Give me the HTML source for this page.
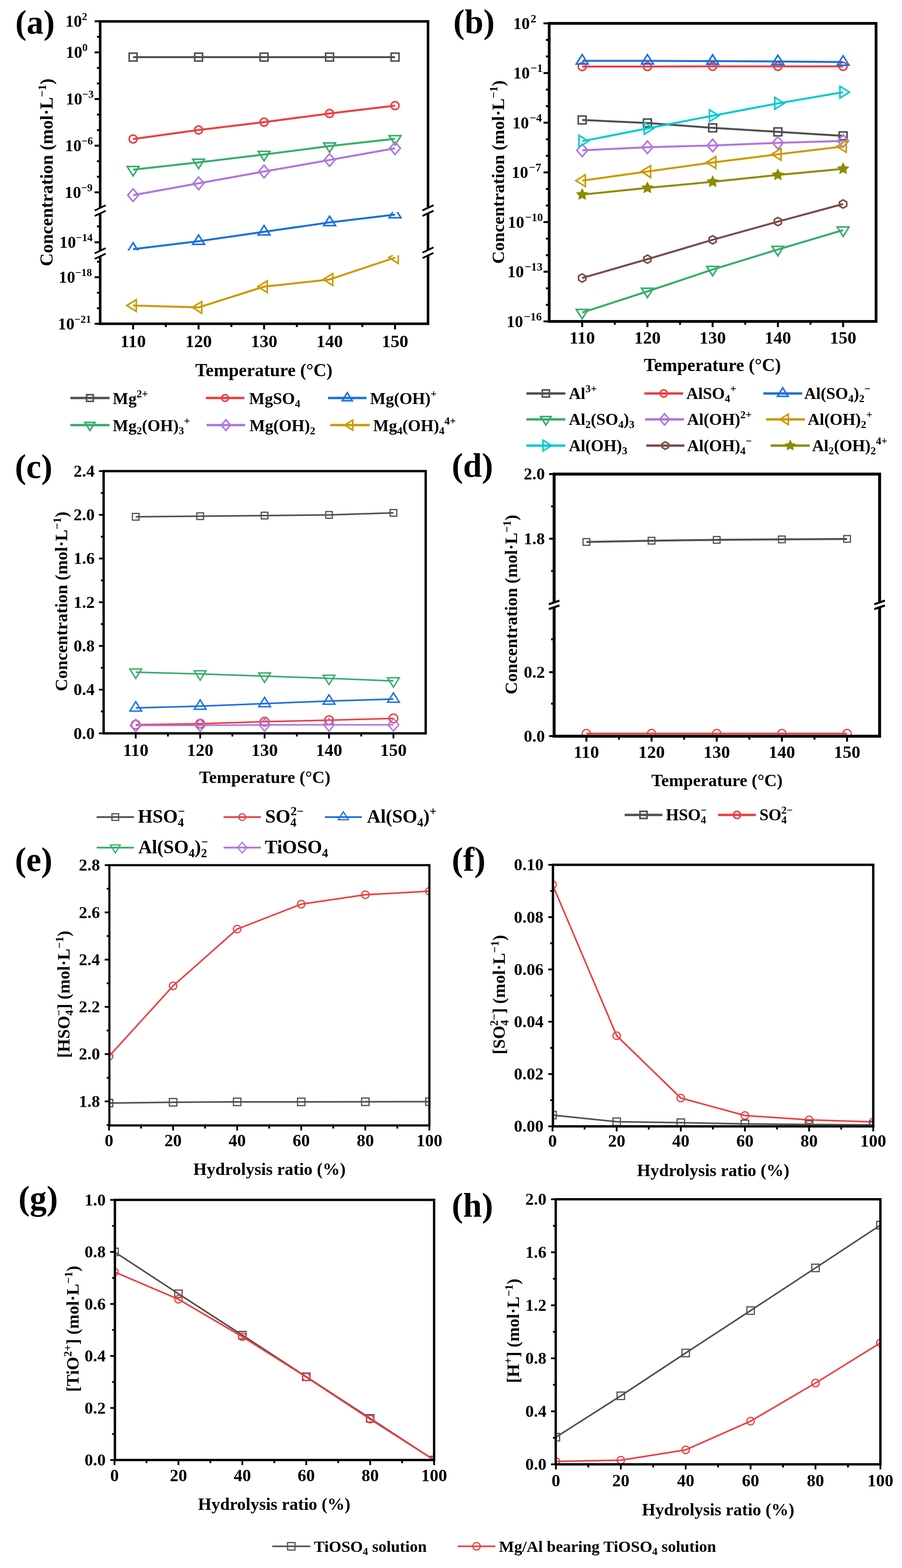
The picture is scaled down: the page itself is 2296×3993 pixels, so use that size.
<!DOCTYPE html>
<html><head><meta charset="utf-8"><title>Figure</title><style>html,body{margin:0;padding:0;background:#fff}</style></head><body>
<svg width="2296" height="3993" viewBox="0 0 2296 3993" style="display:block;font-family:'Liberation Serif',serif;font-weight:bold">
<rect width="2296" height="3993" fill="#fff"/>
<defs>
<clipPath id="ca1"><rect x="258" y="58" width="828" height="480"/></clipPath>
<clipPath id="ca2"><rect x="258" y="540" width="828" height="98"/></clipPath>
<clipPath id="ca3"><rect x="258" y="650" width="828" height="171"/></clipPath>
<clipPath id="cb"><rect x="1401" y="63" width="826" height="752"/></clipPath>
<clipPath id="cc"><rect x="267" y="1203" width="813" height="661"/></clipPath>
<clipPath id="cd1"><rect x="1414" y="1211" width="821" height="323"/></clipPath>
<clipPath id="cd2"><rect x="1414" y="1547" width="821" height="324"/></clipPath>
<clipPath id="ce"><rect x="281" y="2206" width="809" height="657"/></clipPath>
<clipPath id="cf"><rect x="1410.5" y="2205.3" width="809.3" height="660"/></clipPath>
<clipPath id="cg"><rect x="295.5" y="3058.6" width="806.5" height="656.4"/></clipPath>
<clipPath id="ch"><rect x="1417.6" y="3057" width="820.4" height="669"/></clipPath>
</defs>
<text x="39" y="86" font-size="86" text-anchor="start" >(a)</text>
<rect x="255" y="54.5" width="834.5" height="770" fill="none" stroke="#000" stroke-width="6.5" stroke-linejoin="miter"/>
<line x1="338.8" y1="824.5" x2="338.8" y2="838.8" stroke="#000" stroke-width="5"/>
<line x1="505.5" y1="824.5" x2="505.5" y2="838.8" stroke="#000" stroke-width="5"/>
<line x1="672.2" y1="824.5" x2="672.2" y2="838.8" stroke="#000" stroke-width="5"/>
<line x1="838.9" y1="824.5" x2="838.9" y2="838.8" stroke="#000" stroke-width="5"/>
<line x1="1005.6" y1="824.5" x2="1005.6" y2="838.8" stroke="#000" stroke-width="5"/>
<line x1="422.1" y1="824.5" x2="422.1" y2="832.8" stroke="#000" stroke-width="5"/>
<line x1="588.9" y1="824.5" x2="588.9" y2="832.8" stroke="#000" stroke-width="5"/>
<line x1="755.6" y1="824.5" x2="755.6" y2="832.8" stroke="#000" stroke-width="5"/>
<line x1="922.2" y1="824.5" x2="922.2" y2="832.8" stroke="#000" stroke-width="5"/>
<text x="338.8" y="884" font-size="45" text-anchor="middle" >110</text>
<text x="505.5" y="884" font-size="45" text-anchor="middle" >120</text>
<text x="672.2" y="884" font-size="45" text-anchor="middle" >130</text>
<text x="838.9" y="884" font-size="45" text-anchor="middle" >140</text>
<text x="1005.6" y="884" font-size="45" text-anchor="middle" >150</text>
<line x1="240.8" y1="54.2" x2="255" y2="54.2" stroke="#000" stroke-width="5"/>
<line x1="240.8" y1="133.4" x2="255" y2="133.4" stroke="#000" stroke-width="5"/>
<line x1="240.8" y1="252.2" x2="255" y2="252.2" stroke="#000" stroke-width="5"/>
<line x1="240.8" y1="371" x2="255" y2="371" stroke="#000" stroke-width="5"/>
<line x1="240.8" y1="489.8" x2="255" y2="489.8" stroke="#000" stroke-width="5"/>
<line x1="240.8" y1="617" x2="255" y2="617" stroke="#000" stroke-width="5"/>
<line x1="240.8" y1="706" x2="255" y2="706" stroke="#000" stroke-width="5"/>
<line x1="240.8" y1="824.5" x2="255" y2="824.5" stroke="#000" stroke-width="5"/>
<line x1="246.8" y1="93.8" x2="255" y2="93.8" stroke="#000" stroke-width="5"/>
<line x1="246.8" y1="173" x2="255" y2="173" stroke="#000" stroke-width="5"/>
<line x1="246.8" y1="212.6" x2="255" y2="212.6" stroke="#000" stroke-width="5"/>
<line x1="246.8" y1="291.8" x2="255" y2="291.8" stroke="#000" stroke-width="5"/>
<line x1="246.8" y1="331.4" x2="255" y2="331.4" stroke="#000" stroke-width="5"/>
<line x1="246.8" y1="410.6" x2="255" y2="410.6" stroke="#000" stroke-width="5"/>
<line x1="246.8" y1="450.2" x2="255" y2="450.2" stroke="#000" stroke-width="5"/>
<line x1="246.8" y1="576.5" x2="255" y2="576.5" stroke="#000" stroke-width="5"/>
<line x1="246.8" y1="666.5" x2="255" y2="666.5" stroke="#000" stroke-width="5"/>
<line x1="246.8" y1="745.5" x2="255" y2="745.5" stroke="#000" stroke-width="5"/>
<line x1="246.8" y1="785" x2="255" y2="785" stroke="#000" stroke-width="5"/>
<polygon points="241,536 269,522.8 269,536.8 241,550" fill="#fff"/>
<line x1="241" y1="536" x2="269" y2="522.8" stroke="#000" stroke-width="4.5"/>
<line x1="241" y1="550" x2="269" y2="536.8" stroke="#000" stroke-width="4.5"/>
<polygon points="241,645.2 269,632 269,646 241,659.2" fill="#fff"/>
<line x1="241" y1="645.2" x2="269" y2="632" stroke="#000" stroke-width="4.5"/>
<line x1="241" y1="659.2" x2="269" y2="646" stroke="#000" stroke-width="4.5"/>
<polygon points="1075.5,535.9 1103.5,522.6 1103.5,536.6 1075.5,549.9" fill="#fff"/>
<line x1="1075.5" y1="535.9" x2="1103.5" y2="522.6" stroke="#000" stroke-width="4.5"/>
<line x1="1075.5" y1="549.9" x2="1103.5" y2="536.6" stroke="#000" stroke-width="4.5"/>
<polygon points="1075.5,643.2 1103.5,630 1103.5,644 1075.5,657.2" fill="#fff"/>
<line x1="1075.5" y1="643.2" x2="1103.5" y2="630" stroke="#000" stroke-width="4.5"/>
<line x1="1075.5" y1="657.2" x2="1103.5" y2="644" stroke="#000" stroke-width="4.5"/>
<text x="166.6" y="68.2" font-size="42">10<tspan baseline-shift="17" font-size="27">2</tspan></text>
<text x="167.6" y="147.4" font-size="42">10<tspan baseline-shift="17" font-size="27">0</tspan></text>
<text x="167.6" y="266.2" font-size="42">10<tspan baseline-shift="17" font-size="27">−3</tspan></text>
<text x="165.6" y="385" font-size="42">10<tspan baseline-shift="17" font-size="27">−6</tspan></text>
<text x="164.6" y="503.8" font-size="42">10<tspan baseline-shift="17" font-size="27">−9</tspan></text>
<text x="151.3" y="631" font-size="42">10<tspan baseline-shift="17" font-size="27">−14</tspan></text>
<text x="149.6" y="720" font-size="42">10<tspan baseline-shift="17" font-size="27">−18</tspan></text>
<text x="147.6" y="838.5" font-size="42">10<tspan baseline-shift="17" font-size="27">−21</tspan></text>
<text transform="translate(134,439) rotate(-90)" x="0" y="0" font-size="46" text-anchor="middle">Concentration (mol·L<tspan baseline-shift="17" font-size="30">−1</tspan>)</text>
<text x="671.7" y="958" font-size="46" text-anchor="middle" >Temperature (°C)</text>
<g clip-path="url(#ca1)">
<polyline points="338.8,145.4 505.5,145.4 672.2,145.4 838.9,145.4 1005.6,145.4" fill="none" stroke="#505050" stroke-width="5" stroke-linejoin="round"/>
<rect x="328.8" y="135.4" width="20" height="20" fill="none" stroke="#505050" stroke-width="4"/>
<rect x="495.5" y="135.4" width="20" height="20" fill="none" stroke="#505050" stroke-width="4"/>
<rect x="662.2" y="135.4" width="20" height="20" fill="none" stroke="#505050" stroke-width="4"/>
<rect x="828.9" y="135.4" width="20" height="20" fill="none" stroke="#505050" stroke-width="4"/>
<rect x="995.6" y="135.4" width="20" height="20" fill="none" stroke="#505050" stroke-width="4"/>
</g>
<g clip-path="url(#ca1)">
<polyline points="338.8,354 505.5,331 672.2,311 838.9,289 1005.6,269" fill="none" stroke="#ef3e40" stroke-width="5" stroke-linejoin="round"/>
<circle cx="338.8" cy="354" r="10" fill="none" stroke="#ef3e40" stroke-width="4"/>
<circle cx="505.5" cy="331" r="10" fill="none" stroke="#ef3e40" stroke-width="4"/>
<circle cx="672.2" cy="311" r="10" fill="none" stroke="#ef3e40" stroke-width="4"/>
<circle cx="838.9" cy="289" r="10" fill="none" stroke="#ef3e40" stroke-width="4"/>
<circle cx="1005.6" cy="269" r="10" fill="none" stroke="#ef3e40" stroke-width="4"/>
</g>
<g clip-path="url(#ca1)">
<polyline points="338.8,432 505.5,413.6 672.2,393.6 838.9,372 1005.6,353.4" fill="none" stroke="#38ad6b" stroke-width="5" stroke-linejoin="round"/>
<polygon points="338.8,448 353.8,424 323.8,424" fill="none" stroke="#38ad6b" stroke-width="4" stroke-linejoin="miter"/>
<polygon points="505.5,429.6 520.5,405.6 490.5,405.6" fill="none" stroke="#38ad6b" stroke-width="4" stroke-linejoin="miter"/>
<polygon points="672.2,409.6 687.2,385.6 657.2,385.6" fill="none" stroke="#38ad6b" stroke-width="4" stroke-linejoin="miter"/>
<polygon points="838.9,388 853.9,364 823.9,364" fill="none" stroke="#38ad6b" stroke-width="4" stroke-linejoin="miter"/>
<polygon points="1005.6,369.4 1020.6,345.4 990.6,345.4" fill="none" stroke="#38ad6b" stroke-width="4" stroke-linejoin="miter"/>
</g>
<g clip-path="url(#ca1)">
<polyline points="338.8,497 505.5,466.8 672.2,436.8 838.9,407.5 1005.6,377.5" fill="none" stroke="#ae76de" stroke-width="5" stroke-linejoin="round"/>
<polygon points="338.8,481 352.4,497 338.8,513 325.2,497" fill="none" stroke="#ae76de" stroke-width="4"/>
<polygon points="505.5,450.8 519.1,466.8 505.5,482.8 491.9,466.8" fill="none" stroke="#ae76de" stroke-width="4"/>
<polygon points="672.2,420.8 685.8,436.8 672.2,452.8 658.6,436.8" fill="none" stroke="#ae76de" stroke-width="4"/>
<polygon points="838.9,391.5 852.5,407.5 838.9,423.5 825.3,407.5" fill="none" stroke="#ae76de" stroke-width="4"/>
<polygon points="1005.6,361.5 1019.2,377.5 1005.6,393.5 992,377.5" fill="none" stroke="#ae76de" stroke-width="4"/>
</g>
<g clip-path="url(#ca2)">
<polyline points="338.8,634.4 505.5,614.3 672.2,590.3 838.9,566.4 1005.6,546.4" fill="none" stroke="#1a70e0" stroke-width="5" stroke-linejoin="round"/>
<polygon points="338.8,618.4 353.8,642.4 323.8,642.4" fill="none" stroke="#1a70e0" stroke-width="4" stroke-linejoin="miter"/>
<polygon points="505.5,598.3 520.5,622.3 490.5,622.3" fill="none" stroke="#1a70e0" stroke-width="4" stroke-linejoin="miter"/>
<polygon points="672.2,574.3 687.2,598.3 657.2,598.3" fill="none" stroke="#1a70e0" stroke-width="4" stroke-linejoin="miter"/>
<polygon points="838.9,550.4 853.9,574.4 823.9,574.4" fill="none" stroke="#1a70e0" stroke-width="4" stroke-linejoin="miter"/>
<polygon points="1005.6,530.4 1020.6,554.4 990.6,554.4" fill="none" stroke="#1a70e0" stroke-width="4" stroke-linejoin="miter"/>
</g>
<g clip-path="url(#ca3)">
<polyline points="338.8,778 505.5,782.8 672.2,730 838.9,711.7 1005.6,656" fill="none" stroke="#cc9900" stroke-width="5" stroke-linejoin="round"/>
<polygon points="322.8,778 346.8,763 346.8,793" fill="none" stroke="#cc9900" stroke-width="4" stroke-linejoin="miter"/>
<polygon points="489.5,782.8 513.5,767.8 513.5,797.8" fill="none" stroke="#cc9900" stroke-width="4" stroke-linejoin="miter"/>
<polygon points="656.2,730 680.2,715 680.2,745" fill="none" stroke="#cc9900" stroke-width="4" stroke-linejoin="miter"/>
<polygon points="822.9,711.7 846.9,696.7 846.9,726.7" fill="none" stroke="#cc9900" stroke-width="4" stroke-linejoin="miter"/>
<polygon points="989.6,656 1013.6,641 1013.6,671" fill="none" stroke="#cc9900" stroke-width="4" stroke-linejoin="miter"/>
</g>
<line x1="179" y1="1013.6" x2="279" y2="1013.6" stroke="#505050" stroke-width="6"/>
<rect x="220.5" y="1005.1" width="17" height="17" fill="none" stroke="#505050" stroke-width="4"/>
<text x="287" y="1028.6" font-size="42">Mg<tspan baseline-shift="16.8" font-size="27.3">2+</tspan></text>
<line x1="524" y1="1013.6" x2="622" y2="1013.6" stroke="#ef3e40" stroke-width="6"/>
<circle cx="573" cy="1013.6" r="8.5" fill="none" stroke="#ef3e40" stroke-width="4"/>
<text x="634" y="1028.6" font-size="42">MgSO<tspan baseline-shift="-8.4" font-size="27.3">4</tspan></text>
<line x1="835" y1="1013.6" x2="933" y2="1013.6" stroke="#1a70e0" stroke-width="6"/>
<polygon points="884,1000 896.8,1020.4 871.2,1020.4" fill="none" stroke="#1a70e0" stroke-width="4" stroke-linejoin="miter"/>
<text x="942" y="1028.6" font-size="42">Mg(OH)<tspan baseline-shift="16.8" font-size="27.3">+</tspan></text>
<line x1="179" y1="1082.6" x2="279" y2="1082.6" stroke="#38ad6b" stroke-width="6"/>
<polygon points="229,1096.2 241.8,1075.8 216.2,1075.8" fill="none" stroke="#38ad6b" stroke-width="4" stroke-linejoin="miter"/>
<text x="287" y="1097.6" font-size="42">Mg<tspan baseline-shift="-8.4" font-size="27.3">2</tspan>(OH)<tspan baseline-shift="-8.4" font-size="27.3">3</tspan><tspan baseline-shift="16.8" font-size="27.3">+</tspan></text>
<line x1="526" y1="1082.6" x2="624" y2="1082.6" stroke="#ae76de" stroke-width="6"/>
<polygon points="575,1069 586.6,1082.6 575,1096.2 563.4,1082.6" fill="none" stroke="#ae76de" stroke-width="4"/>
<text x="635" y="1097.6" font-size="42">Mg(OH)<tspan baseline-shift="-8.4" font-size="27.3">2</tspan></text>
<line x1="841" y1="1082.6" x2="941" y2="1082.6" stroke="#cc9900" stroke-width="6"/>
<polygon points="877.4,1082.6 897.8,1069.8 897.8,1095.3" fill="none" stroke="#cc9900" stroke-width="4" stroke-linejoin="miter"/>
<text x="950" y="1097.6" font-size="42">Mg<tspan baseline-shift="-8.4" font-size="27.3">4</tspan>(OH)<tspan baseline-shift="-8.4" font-size="27.3">4</tspan><tspan baseline-shift="16.8" font-size="27.3">4+</tspan></text>
<text x="1154" y="84" font-size="86" text-anchor="start" >(b)</text>
<rect x="1398" y="59.5" width="832" height="759" fill="none" stroke="#000" stroke-width="7" stroke-linejoin="miter"/>
<line x1="1481.9" y1="818.5" x2="1481.9" y2="833" stroke="#000" stroke-width="5"/>
<line x1="1648" y1="818.5" x2="1648" y2="833" stroke="#000" stroke-width="5"/>
<line x1="1814" y1="818.5" x2="1814" y2="833" stroke="#000" stroke-width="5"/>
<line x1="1980.1" y1="818.5" x2="1980.1" y2="833" stroke="#000" stroke-width="5"/>
<line x1="2146.1" y1="818.5" x2="2146.1" y2="833" stroke="#000" stroke-width="5"/>
<line x1="1564.9" y1="818.5" x2="1564.9" y2="827" stroke="#000" stroke-width="5"/>
<line x1="1731" y1="818.5" x2="1731" y2="827" stroke="#000" stroke-width="5"/>
<line x1="1897" y1="818.5" x2="1897" y2="827" stroke="#000" stroke-width="5"/>
<line x1="2063.1" y1="818.5" x2="2063.1" y2="827" stroke="#000" stroke-width="5"/>
<text x="1481.9" y="875" font-size="45" text-anchor="middle" >110</text>
<text x="1648" y="875" font-size="45" text-anchor="middle" >120</text>
<text x="1814" y="875" font-size="45" text-anchor="middle" >130</text>
<text x="1980.1" y="875" font-size="45" text-anchor="middle" >140</text>
<text x="2146.1" y="875" font-size="45" text-anchor="middle" >150</text>
<line x1="1383.5" y1="59.5" x2="1398" y2="59.5" stroke="#000" stroke-width="5"/>
<line x1="1383.5" y1="186" x2="1398" y2="186" stroke="#000" stroke-width="5"/>
<line x1="1383.5" y1="312.5" x2="1398" y2="312.5" stroke="#000" stroke-width="5"/>
<line x1="1383.5" y1="439" x2="1398" y2="439" stroke="#000" stroke-width="5"/>
<line x1="1383.5" y1="565.5" x2="1398" y2="565.5" stroke="#000" stroke-width="5"/>
<line x1="1383.5" y1="692" x2="1398" y2="692" stroke="#000" stroke-width="5"/>
<line x1="1383.5" y1="818.5" x2="1398" y2="818.5" stroke="#000" stroke-width="5"/>
<line x1="1389.5" y1="101.7" x2="1398" y2="101.7" stroke="#000" stroke-width="5"/>
<line x1="1389.5" y1="143.8" x2="1398" y2="143.8" stroke="#000" stroke-width="5"/>
<line x1="1389.5" y1="228.2" x2="1398" y2="228.2" stroke="#000" stroke-width="5"/>
<line x1="1389.5" y1="270.3" x2="1398" y2="270.3" stroke="#000" stroke-width="5"/>
<line x1="1389.5" y1="354.7" x2="1398" y2="354.7" stroke="#000" stroke-width="5"/>
<line x1="1389.5" y1="396.8" x2="1398" y2="396.8" stroke="#000" stroke-width="5"/>
<line x1="1389.5" y1="481.2" x2="1398" y2="481.2" stroke="#000" stroke-width="5"/>
<line x1="1389.5" y1="523.3" x2="1398" y2="523.3" stroke="#000" stroke-width="5"/>
<line x1="1389.5" y1="607.7" x2="1398" y2="607.7" stroke="#000" stroke-width="5"/>
<line x1="1389.5" y1="649.8" x2="1398" y2="649.8" stroke="#000" stroke-width="5"/>
<line x1="1389.5" y1="734.2" x2="1398" y2="734.2" stroke="#000" stroke-width="5"/>
<line x1="1389.5" y1="776.3" x2="1398" y2="776.3" stroke="#000" stroke-width="5"/>
<text x="1306.6" y="73.5" font-size="42">10<tspan dx="2" baseline-shift="17" font-size="29">2</tspan></text>
<text x="1306.6" y="200" font-size="42">10<tspan dx="2" baseline-shift="17" font-size="29">−1</tspan></text>
<text x="1304.2" y="326.5" font-size="42">10<tspan dx="2" baseline-shift="17" font-size="29">−4</tspan></text>
<text x="1302.6" y="453" font-size="42">10<tspan dx="2" baseline-shift="17" font-size="29">−7</tspan></text>
<text x="1292.6" y="579.5" font-size="42">10<tspan dx="2" baseline-shift="17" font-size="29">−10</tspan></text>
<text x="1291.6" y="706" font-size="42">10<tspan dx="2" baseline-shift="17" font-size="29">−13</tspan></text>
<text x="1289.6" y="832.5" font-size="42">10<tspan dx="2" baseline-shift="17" font-size="29">−16</tspan></text>
<text transform="translate(1282.5,438) rotate(-90)" x="0" y="0" font-size="45" text-anchor="middle">Concentration (mol·L<tspan baseline-shift="17" font-size="29">−1</tspan>)</text>
<text x="1813.3" y="945" font-size="46" text-anchor="middle" >Temperature (°C)</text>
<g clip-path="url(#cb)">
<polyline points="1481.9,305.5 1648,313.2 1814,325.6 1980.1,335.8 2146.1,346" fill="none" stroke="#505050" stroke-width="5" stroke-linejoin="round"/>
<rect x="1471.9" y="295.5" width="20" height="20" fill="none" stroke="#505050" stroke-width="4"/>
<rect x="1638" y="303.2" width="20" height="20" fill="none" stroke="#505050" stroke-width="4"/>
<rect x="1804" y="315.6" width="20" height="20" fill="none" stroke="#505050" stroke-width="4"/>
<rect x="1970.1" y="325.8" width="20" height="20" fill="none" stroke="#505050" stroke-width="4"/>
<rect x="2136.1" y="336" width="20" height="20" fill="none" stroke="#505050" stroke-width="4"/>
</g>
<g clip-path="url(#cb)">
<polyline points="1481.9,169.5 1648,169.5 1814,169 1980.1,169 2146.1,169" fill="none" stroke="#ef3e40" stroke-width="5" stroke-linejoin="round"/>
<circle cx="1481.9" cy="169.5" r="10" fill="none" stroke="#ef3e40" stroke-width="4"/>
<circle cx="1648" cy="169.5" r="10" fill="none" stroke="#ef3e40" stroke-width="4"/>
<circle cx="1814" cy="169" r="10" fill="none" stroke="#ef3e40" stroke-width="4"/>
<circle cx="1980.1" cy="169" r="10" fill="none" stroke="#ef3e40" stroke-width="4"/>
<circle cx="2146.1" cy="169" r="10" fill="none" stroke="#ef3e40" stroke-width="4"/>
</g>
<g clip-path="url(#cb)">
<polyline points="1481.9,155 1648,155 1814,155.6 1980.1,156.6 2146.1,158" fill="none" stroke="#1a70e0" stroke-width="5" stroke-linejoin="round"/>
<polygon points="1481.9,139 1496.9,163 1466.9,163" fill="none" stroke="#1a70e0" stroke-width="4" stroke-linejoin="miter"/>
<polygon points="1648,139 1663,163 1633,163" fill="none" stroke="#1a70e0" stroke-width="4" stroke-linejoin="miter"/>
<polygon points="1814,139.6 1829,163.6 1799,163.6" fill="none" stroke="#1a70e0" stroke-width="4" stroke-linejoin="miter"/>
<polygon points="1980.1,140.6 1995.1,164.6 1965.1,164.6" fill="none" stroke="#1a70e0" stroke-width="4" stroke-linejoin="miter"/>
<polygon points="2146.1,142 2161.1,166 2131.1,166" fill="none" stroke="#1a70e0" stroke-width="4" stroke-linejoin="miter"/>
</g>
<g clip-path="url(#cb)">
<polyline points="1481.9,796 1648,742 1814,686.4 1980.1,635.4 2146.1,586" fill="none" stroke="#38ad6b" stroke-width="5" stroke-linejoin="round"/>
<polygon points="1481.9,812 1496.9,788 1466.9,788" fill="none" stroke="#38ad6b" stroke-width="4" stroke-linejoin="miter"/>
<polygon points="1648,758 1663,734 1633,734" fill="none" stroke="#38ad6b" stroke-width="4" stroke-linejoin="miter"/>
<polygon points="1814,702.4 1829,678.4 1799,678.4" fill="none" stroke="#38ad6b" stroke-width="4" stroke-linejoin="miter"/>
<polygon points="1980.1,651.4 1995.1,627.4 1965.1,627.4" fill="none" stroke="#38ad6b" stroke-width="4" stroke-linejoin="miter"/>
<polygon points="2146.1,602 2161.1,578 2131.1,578" fill="none" stroke="#38ad6b" stroke-width="4" stroke-linejoin="miter"/>
</g>
<g clip-path="url(#cb)">
<polyline points="1481.9,382.8 1648,375 1814,370.4 1980.1,363.7 2146.1,359" fill="none" stroke="#ae76de" stroke-width="5" stroke-linejoin="round"/>
<polygon points="1481.9,366.8 1495.5,382.8 1481.9,398.8 1468.3,382.8" fill="none" stroke="#ae76de" stroke-width="4"/>
<polygon points="1648,359 1661.5,375 1648,391 1634.4,375" fill="none" stroke="#ae76de" stroke-width="4"/>
<polygon points="1814,354.4 1827.6,370.4 1814,386.4 1800.4,370.4" fill="none" stroke="#ae76de" stroke-width="4"/>
<polygon points="1980.1,347.7 1993.7,363.7 1980.1,379.7 1966.5,363.7" fill="none" stroke="#ae76de" stroke-width="4"/>
<polygon points="2146.1,343 2159.7,359 2146.1,375 2132.5,359" fill="none" stroke="#ae76de" stroke-width="4"/>
</g>
<g clip-path="url(#cb)">
<polyline points="1481.9,460 1648,436.8 1814,413.7 1980.1,393 2146.1,373" fill="none" stroke="#cc9900" stroke-width="5" stroke-linejoin="round"/>
<polygon points="1465.9,460 1489.9,445 1489.9,475" fill="none" stroke="#cc9900" stroke-width="4" stroke-linejoin="miter"/>
<polygon points="1632,436.8 1656,421.8 1656,451.8" fill="none" stroke="#cc9900" stroke-width="4" stroke-linejoin="miter"/>
<polygon points="1798,413.7 1822,398.7 1822,428.7" fill="none" stroke="#cc9900" stroke-width="4" stroke-linejoin="miter"/>
<polygon points="1964.1,393 1988.1,378 1988.1,408" fill="none" stroke="#cc9900" stroke-width="4" stroke-linejoin="miter"/>
<polygon points="2130.1,373 2154.1,358 2154.1,388" fill="none" stroke="#cc9900" stroke-width="4" stroke-linejoin="miter"/>
</g>
<g clip-path="url(#cb)">
<polyline points="1481.9,359.6 1648,327 1814,294.7 1980.1,263.2 2146.1,234.8" fill="none" stroke="#00cbcf" stroke-width="5" stroke-linejoin="round"/>
<polygon points="1497.9,359.6 1473.9,344.6 1473.9,374.6" fill="none" stroke="#00cbcf" stroke-width="4" stroke-linejoin="miter"/>
<polygon points="1664,327 1640,312 1640,342" fill="none" stroke="#00cbcf" stroke-width="4" stroke-linejoin="miter"/>
<polygon points="1830,294.7 1806,279.7 1806,309.7" fill="none" stroke="#00cbcf" stroke-width="4" stroke-linejoin="miter"/>
<polygon points="1996.1,263.2 1972.1,248.2 1972.1,278.2" fill="none" stroke="#00cbcf" stroke-width="4" stroke-linejoin="miter"/>
<polygon points="2162.1,234.8 2138.1,219.8 2138.1,249.8" fill="none" stroke="#00cbcf" stroke-width="4" stroke-linejoin="miter"/>
</g>
<g clip-path="url(#cb)">
<polyline points="1481.9,708 1648,660 1814,610.7 1980.1,564.3 2146.1,519.5" fill="none" stroke="#7b4b4b" stroke-width="5" stroke-linejoin="round"/>
<polygon points="1481.9,697.5 1491,702.8 1491,713.2 1481.9,718.5 1472.8,713.2 1472.8,702.8" fill="none" stroke="#7b4b4b" stroke-width="4"/>
<polygon points="1648,649.5 1657,654.8 1657,665.2 1648,670.5 1638.9,665.2 1638.9,654.8" fill="none" stroke="#7b4b4b" stroke-width="4"/>
<polygon points="1814,600.2 1823.1,605.5 1823.1,616 1814,621.2 1804.9,616 1804.9,605.5" fill="none" stroke="#7b4b4b" stroke-width="4"/>
<polygon points="1980.1,553.8 1989.1,559 1989.1,569.5 1980.1,574.8 1971,569.5 1971,559" fill="none" stroke="#7b4b4b" stroke-width="4"/>
<polygon points="2146.1,509 2155.2,514.2 2155.2,524.8 2146.1,530 2137,524.8 2137,514.2" fill="none" stroke="#7b4b4b" stroke-width="4"/>
</g>
<g clip-path="url(#cb)">
<polyline points="1481.9,495.6 1648,478.5 1814,463 1980.1,445.5 2146.1,430" fill="none" stroke="#8c8c00" stroke-width="5" stroke-linejoin="round"/>
<polygon points="1481.9,481.6 1486,489.9 1495.2,491.3 1488.6,497.8 1490.1,506.9 1481.9,502.6 1473.7,506.9 1475.2,497.8 1468.6,491.3 1477.8,489.9" fill="#8c8c00" stroke="#8c8c00" stroke-width="2.4"/>
<polygon points="1648,464.5 1652.1,472.8 1661.3,474.2 1654.6,480.7 1656.2,489.8 1648,485.5 1639.7,489.8 1641.3,480.7 1634.6,474.2 1643.8,472.8" fill="#8c8c00" stroke="#8c8c00" stroke-width="2.4"/>
<polygon points="1814,449 1818.1,457.3 1827.3,458.7 1820.7,465.2 1822.2,474.3 1814,470 1805.8,474.3 1807.3,465.2 1800.7,458.7 1809.9,457.3" fill="#8c8c00" stroke="#8c8c00" stroke-width="2.4"/>
<polygon points="1980.1,431.5 1984.2,439.8 1993.4,441.2 1986.7,447.7 1988.3,456.8 1980.1,452.5 1971.8,456.8 1973.4,447.7 1966.7,441.2 1975.9,439.8" fill="#8c8c00" stroke="#8c8c00" stroke-width="2.4"/>
<polygon points="2146.1,416 2150.2,424.3 2159.4,425.7 2152.8,432.2 2154.3,441.3 2146.1,437 2137.9,441.3 2139.4,432.2 2132.8,425.7 2142,424.3" fill="#8c8c00" stroke="#8c8c00" stroke-width="2.4"/>
</g>
<line x1="1340" y1="1002" x2="1439" y2="1002" stroke="#505050" stroke-width="6"/>
<rect x="1380.5" y="993" width="18" height="18" fill="none" stroke="#505050" stroke-width="4"/>
<text x="1448" y="1016" font-size="42">Al<tspan baseline-shift="16.8" font-size="27.3">3+</tspan></text>
<line x1="1640" y1="1002" x2="1739" y2="1002" stroke="#ef3e40" stroke-width="6"/>
<circle cx="1689.5" cy="1002" r="9" fill="none" stroke="#ef3e40" stroke-width="4"/>
<text x="1747" y="1016" font-size="42">AlSO<tspan baseline-shift="-8.4" font-size="27.3">4</tspan><tspan baseline-shift="16.8" font-size="27.3">+</tspan></text>
<line x1="1943" y1="1002" x2="2042" y2="1002" stroke="#1a70e0" stroke-width="6"/>
<polygon points="1992.5,987.6 2006,1009.2 1979,1009.2" fill="none" stroke="#1a70e0" stroke-width="4" stroke-linejoin="miter"/>
<text x="2047" y="1016" font-size="42">Al(SO<tspan baseline-shift="-8.4" font-size="27.3">4</tspan>)<tspan baseline-shift="-8.4" font-size="27.3">2</tspan><tspan baseline-shift="16.8" font-size="27.3">−</tspan></text>
<line x1="1340" y1="1068" x2="1439" y2="1068" stroke="#38ad6b" stroke-width="6"/>
<polygon points="1389.5,1082.4 1403,1060.8 1376,1060.8" fill="none" stroke="#38ad6b" stroke-width="4" stroke-linejoin="miter"/>
<text x="1448" y="1082" font-size="42">Al<tspan baseline-shift="-8.4" font-size="27.3">2</tspan>(SO<tspan baseline-shift="-8.4" font-size="27.3">4</tspan>)<tspan baseline-shift="-8.4" font-size="27.3">3</tspan></text>
<line x1="1642" y1="1068" x2="1741" y2="1068" stroke="#ae76de" stroke-width="6"/>
<polygon points="1691.5,1053.6 1703.7,1068 1691.5,1082.4 1679.3,1068" fill="none" stroke="#ae76de" stroke-width="4"/>
<text x="1749" y="1082" font-size="42">Al(OH)<tspan baseline-shift="16.8" font-size="27.3">2+</tspan></text>
<line x1="1950" y1="1068" x2="2049" y2="1068" stroke="#cc9900" stroke-width="6"/>
<polygon points="1985.1,1068 2006.7,1054.5 2006.7,1081.5" fill="none" stroke="#cc9900" stroke-width="4" stroke-linejoin="miter"/>
<text x="2056" y="1082" font-size="42">Al(OH)<tspan baseline-shift="-8.4" font-size="27.3">2</tspan><tspan baseline-shift="16.8" font-size="27.3">+</tspan></text>
<line x1="1340" y1="1134.7" x2="1439" y2="1134.7" stroke="#00cbcf" stroke-width="6"/>
<polygon points="1403.9,1134.7 1382.3,1121.2 1382.3,1148.2" fill="none" stroke="#00cbcf" stroke-width="4" stroke-linejoin="miter"/>
<text x="1448" y="1148.7" font-size="42">Al(OH)<tspan baseline-shift="-8.4" font-size="27.3">3</tspan></text>
<line x1="1645" y1="1134.7" x2="1742" y2="1134.7" stroke="#7b4b4b" stroke-width="6"/>
<polygon points="1693.5,1125.2 1701.7,1130 1701.7,1139.4 1693.5,1144.2 1685.3,1139.4 1685.3,1130" fill="none" stroke="#7b4b4b" stroke-width="4"/>
<text x="1749" y="1148.7" font-size="42">Al(OH)<tspan baseline-shift="-8.4" font-size="27.3">4</tspan><tspan baseline-shift="16.8" font-size="27.3">−</tspan></text>
<line x1="1962" y1="1134.7" x2="2061" y2="1134.7" stroke="#8c8c00" stroke-width="6"/>
<polygon points="2011.5,1122.1 2015.2,1129.6 2023.5,1130.8 2017.5,1136.6 2018.9,1144.9 2011.5,1141 2004.1,1144.9 2005.5,1136.6 1999.5,1130.8 2007.8,1129.6" fill="#8c8c00" stroke="#8c8c00" stroke-width="2.4"/>
<text x="2067" y="1148.7" font-size="42">Al<tspan baseline-shift="-8.4" font-size="27.3">2</tspan>(OH)<tspan baseline-shift="-8.4" font-size="27.3">2</tspan><tspan baseline-shift="16.8" font-size="27.3">4+</tspan></text>
<text x="38" y="1217" font-size="86" text-anchor="start" >(c)</text>
<rect x="263.8" y="1199.7" width="819.8" height="667.8" fill="none" stroke="#000" stroke-width="6" stroke-linejoin="miter"/>
<line x1="345.5" y1="1867.5" x2="345.5" y2="1880.5" stroke="#000" stroke-width="4.5"/>
<line x1="509.5" y1="1867.5" x2="509.5" y2="1880.5" stroke="#000" stroke-width="4.5"/>
<line x1="673.5" y1="1867.5" x2="673.5" y2="1880.5" stroke="#000" stroke-width="4.5"/>
<line x1="837.5" y1="1867.5" x2="837.5" y2="1880.5" stroke="#000" stroke-width="4.5"/>
<line x1="1001.5" y1="1867.5" x2="1001.5" y2="1880.5" stroke="#000" stroke-width="4.5"/>
<line x1="427.5" y1="1867.5" x2="427.5" y2="1875.5" stroke="#000" stroke-width="4.5"/>
<line x1="591.5" y1="1867.5" x2="591.5" y2="1875.5" stroke="#000" stroke-width="4.5"/>
<line x1="755.5" y1="1867.5" x2="755.5" y2="1875.5" stroke="#000" stroke-width="4.5"/>
<line x1="919.5" y1="1867.5" x2="919.5" y2="1875.5" stroke="#000" stroke-width="4.5"/>
<text x="345.5" y="1925" font-size="45" text-anchor="middle" >110</text>
<text x="509.5" y="1925" font-size="45" text-anchor="middle" >120</text>
<text x="673.5" y="1925" font-size="45" text-anchor="middle" >130</text>
<text x="837.5" y="1925" font-size="45" text-anchor="middle" >140</text>
<text x="1001.5" y="1925" font-size="45" text-anchor="middle" >150</text>
<line x1="251.8" y1="1867.5" x2="263.8" y2="1867.5" stroke="#000" stroke-width="4.5"/>
<line x1="251.8" y1="1756.2" x2="263.8" y2="1756.2" stroke="#000" stroke-width="4.5"/>
<line x1="251.8" y1="1644.9" x2="263.8" y2="1644.9" stroke="#000" stroke-width="4.5"/>
<line x1="251.8" y1="1533.6" x2="263.8" y2="1533.6" stroke="#000" stroke-width="4.5"/>
<line x1="251.8" y1="1422.3" x2="263.8" y2="1422.3" stroke="#000" stroke-width="4.5"/>
<line x1="251.8" y1="1311" x2="263.8" y2="1311" stroke="#000" stroke-width="4.5"/>
<line x1="251.8" y1="1199.7" x2="263.8" y2="1199.7" stroke="#000" stroke-width="4.5"/>
<line x1="256.8" y1="1811.8" x2="263.8" y2="1811.8" stroke="#000" stroke-width="4.5"/>
<line x1="256.8" y1="1700.5" x2="263.8" y2="1700.5" stroke="#000" stroke-width="4.5"/>
<line x1="256.8" y1="1589.2" x2="263.8" y2="1589.2" stroke="#000" stroke-width="4.5"/>
<line x1="256.8" y1="1478" x2="263.8" y2="1478" stroke="#000" stroke-width="4.5"/>
<line x1="256.8" y1="1366.7" x2="263.8" y2="1366.7" stroke="#000" stroke-width="4.5"/>
<line x1="256.8" y1="1255.3" x2="263.8" y2="1255.3" stroke="#000" stroke-width="4.5"/>
<text x="241" y="1881.5" font-size="43" text-anchor="end" >0.0</text>
<text x="241" y="1770.2" font-size="43" text-anchor="end" >0.4</text>
<text x="241" y="1658.9" font-size="43" text-anchor="end" >0.8</text>
<text x="241" y="1547.6" font-size="43" text-anchor="end" >1.2</text>
<text x="241" y="1436.3" font-size="43" text-anchor="end" >1.6</text>
<text x="241" y="1325" font-size="43" text-anchor="end" >2.0</text>
<text x="241" y="1213.7" font-size="43" text-anchor="end" >2.4</text>
<text transform="translate(171,1531.5) rotate(-90)" x="0" y="0" font-size="44" text-anchor="middle">Concentration (mol·L<tspan baseline-shift="16" font-size="29">−1</tspan>)</text>
<text x="674" y="1994" font-size="44" text-anchor="middle" >Temperature (°C)</text>
<g clip-path="url(#cc)">
<polyline points="345.5,1316 509.5,1314.5 673.5,1312.9 837.5,1311.3 1001.5,1306" fill="none" stroke="#505050" stroke-width="4" stroke-linejoin="round"/>
<rect x="337" y="1307.5" width="17" height="17" fill="none" stroke="#505050" stroke-width="3"/>
<rect x="501" y="1306" width="17" height="17" fill="none" stroke="#505050" stroke-width="3"/>
<rect x="665" y="1304.4" width="17" height="17" fill="none" stroke="#505050" stroke-width="3"/>
<rect x="829" y="1302.8" width="17" height="17" fill="none" stroke="#505050" stroke-width="3"/>
<rect x="993" y="1297.5" width="17" height="17" fill="none" stroke="#505050" stroke-width="3"/>
</g>
<g clip-path="url(#cc)">
<polyline points="345.5,1711.7 509.5,1716.3 673.5,1721.8 837.5,1727.4 1001.5,1733.9" fill="none" stroke="#38ad6b" stroke-width="4" stroke-linejoin="round"/>
<polygon points="345.5,1727.7 360.5,1703.7 330.5,1703.7" fill="none" stroke="#38ad6b" stroke-width="3.5" stroke-linejoin="miter"/>
<polygon points="509.5,1732.3 524.5,1708.3 494.5,1708.3" fill="none" stroke="#38ad6b" stroke-width="3.5" stroke-linejoin="miter"/>
<polygon points="673.5,1737.8 688.5,1713.8 658.5,1713.8" fill="none" stroke="#38ad6b" stroke-width="3.5" stroke-linejoin="miter"/>
<polygon points="837.5,1743.4 852.5,1719.4 822.5,1719.4" fill="none" stroke="#38ad6b" stroke-width="3.5" stroke-linejoin="miter"/>
<polygon points="1001.5,1749.9 1016.5,1725.9 986.5,1725.9" fill="none" stroke="#38ad6b" stroke-width="3.5" stroke-linejoin="miter"/>
</g>
<g clip-path="url(#cc)">
<polyline points="345.5,1802.8 509.5,1798.2 673.5,1791.7 837.5,1785.2 1001.5,1780.3" fill="none" stroke="#1a70e0" stroke-width="4" stroke-linejoin="round"/>
<polygon points="345.5,1786.8 360.5,1810.8 330.5,1810.8" fill="none" stroke="#1a70e0" stroke-width="3.5" stroke-linejoin="miter"/>
<polygon points="509.5,1782.2 524.5,1806.2 494.5,1806.2" fill="none" stroke="#1a70e0" stroke-width="3.5" stroke-linejoin="miter"/>
<polygon points="673.5,1775.7 688.5,1799.7 658.5,1799.7" fill="none" stroke="#1a70e0" stroke-width="3.5" stroke-linejoin="miter"/>
<polygon points="837.5,1769.2 852.5,1793.2 822.5,1793.2" fill="none" stroke="#1a70e0" stroke-width="3.5" stroke-linejoin="miter"/>
<polygon points="1001.5,1764.3 1016.5,1788.3 986.5,1788.3" fill="none" stroke="#1a70e0" stroke-width="3.5" stroke-linejoin="miter"/>
</g>
<g clip-path="url(#cc)">
<polyline points="345.5,1845.5 509.5,1843 673.5,1837.8 837.5,1834 1001.5,1829.4" fill="none" stroke="#ef3e40" stroke-width="4" stroke-linejoin="round"/>
<circle cx="345.5" cy="1845.5" r="11" fill="none" stroke="#ef3e40" stroke-width="3.5"/>
<circle cx="509.5" cy="1843" r="11" fill="none" stroke="#ef3e40" stroke-width="3.5"/>
<circle cx="673.5" cy="1837.8" r="11" fill="none" stroke="#ef3e40" stroke-width="3.5"/>
<circle cx="837.5" cy="1834" r="11" fill="none" stroke="#ef3e40" stroke-width="3.5"/>
<circle cx="1001.5" cy="1829.4" r="11" fill="none" stroke="#ef3e40" stroke-width="3.5"/>
</g>
<g clip-path="url(#cc)">
<polyline points="345.5,1847.6 509.5,1847 673.5,1846 837.5,1845.7 1001.5,1845.7" fill="none" stroke="#ae76de" stroke-width="4" stroke-linejoin="round"/>
<polygon points="345.5,1831.6 359.1,1847.6 345.5,1863.6 331.9,1847.6" fill="none" stroke="#ae76de" stroke-width="3.5"/>
<polygon points="509.5,1831 523.1,1847 509.5,1863 495.9,1847" fill="none" stroke="#ae76de" stroke-width="3.5"/>
<polygon points="673.5,1830 687.1,1846 673.5,1862 659.9,1846" fill="none" stroke="#ae76de" stroke-width="3.5"/>
<polygon points="837.5,1829.7 851.1,1845.7 837.5,1861.7 823.9,1845.7" fill="none" stroke="#ae76de" stroke-width="3.5"/>
<polygon points="1001.5,1829.7 1015.1,1845.7 1001.5,1861.7 987.9,1845.7" fill="none" stroke="#ae76de" stroke-width="3.5"/>
</g>
<line x1="246" y1="2080.7" x2="341" y2="2080.7" stroke="#505050" stroke-width="4.5"/>
<rect x="285" y="2072.2" width="17" height="17" fill="none" stroke="#505050" stroke-width="3"/>
<text x="351" y="2094.7" font-size="48">HSO<tspan baseline-shift="-9.6" font-size="31.2">4</tspan><tspan dx="-15" baseline-shift="19.2" font-size="31.2">−</tspan></text>
<line x1="569" y1="2080.7" x2="664" y2="2080.7" stroke="#ef3e40" stroke-width="4.5"/>
<circle cx="616.5" cy="2080.7" r="8.5" fill="none" stroke="#ef3e40" stroke-width="3"/>
<text x="675" y="2094.7" font-size="48">SO<tspan baseline-shift="-9.6" font-size="31.2">4</tspan><tspan dx="-15" baseline-shift="19.2" font-size="31.2">2−</tspan></text>
<line x1="827" y1="2080.7" x2="921" y2="2080.7" stroke="#1a70e0" stroke-width="4.5"/>
<polygon points="874,2067.1 886.8,2087.5 861.2,2087.5" fill="none" stroke="#1a70e0" stroke-width="3" stroke-linejoin="miter"/>
<text x="934" y="2094.7" font-size="48">Al(SO<tspan baseline-shift="-9.6" font-size="31.2">4</tspan>)<tspan baseline-shift="19.2" font-size="31.2">+</tspan></text>
<line x1="246" y1="2158.5" x2="341" y2="2158.5" stroke="#38ad6b" stroke-width="4.5"/>
<polygon points="293.5,2172.1 306.2,2151.7 280.8,2151.7" fill="none" stroke="#38ad6b" stroke-width="3" stroke-linejoin="miter"/>
<text x="352" y="2172.5" font-size="48">Al(SO<tspan baseline-shift="-9.6" font-size="31.2">4</tspan>)<tspan baseline-shift="-9.6" font-size="31.2">2</tspan><tspan dx="-15" baseline-shift="19.2" font-size="31.2">−</tspan></text>
<line x1="569" y1="2158.5" x2="664" y2="2158.5" stroke="#ae76de" stroke-width="4.5"/>
<polygon points="616.5,2144.9 628.1,2158.5 616.5,2172.1 604.9,2158.5" fill="none" stroke="#ae76de" stroke-width="3"/>
<text x="674" y="2172.5" font-size="48">TiOSO<tspan baseline-shift="-9.6" font-size="31.2">4</tspan></text>
<text x="1150" y="1214" font-size="86" text-anchor="start" >(d)</text>
<rect x="1410.5" y="1207.3" width="828.5" height="667.5" fill="none" stroke="#000" stroke-width="7.5" stroke-linejoin="miter"/>
<line x1="1492.6" y1="1874.8" x2="1492.6" y2="1888.5" stroke="#000" stroke-width="5"/>
<line x1="1658.5" y1="1874.8" x2="1658.5" y2="1888.5" stroke="#000" stroke-width="5"/>
<line x1="1824.4" y1="1874.8" x2="1824.4" y2="1888.5" stroke="#000" stroke-width="5"/>
<line x1="1990.3" y1="1874.8" x2="1990.3" y2="1888.5" stroke="#000" stroke-width="5"/>
<line x1="2156.2" y1="1874.8" x2="2156.2" y2="1888.5" stroke="#000" stroke-width="5"/>
<line x1="1575.6" y1="1874.8" x2="1575.6" y2="1883.5" stroke="#000" stroke-width="5"/>
<line x1="1741.5" y1="1874.8" x2="1741.5" y2="1883.5" stroke="#000" stroke-width="5"/>
<line x1="1907.4" y1="1874.8" x2="1907.4" y2="1883.5" stroke="#000" stroke-width="5"/>
<line x1="2073.3" y1="1874.8" x2="2073.3" y2="1883.5" stroke="#000" stroke-width="5"/>
<text x="1492.6" y="1930" font-size="45" text-anchor="middle" >110</text>
<text x="1658.5" y="1930" font-size="45" text-anchor="middle" >120</text>
<text x="1824.4" y="1930" font-size="45" text-anchor="middle" >130</text>
<text x="1990.3" y="1930" font-size="45" text-anchor="middle" >140</text>
<text x="2156.2" y="1930" font-size="45" text-anchor="middle" >150</text>
<line x1="1397.8" y1="1207.2" x2="1410.5" y2="1207.2" stroke="#000" stroke-width="5"/>
<line x1="1397.8" y1="1371.9" x2="1410.5" y2="1371.9" stroke="#000" stroke-width="5"/>
<line x1="1397.8" y1="1711.7" x2="1410.5" y2="1711.7" stroke="#000" stroke-width="5"/>
<line x1="1397.8" y1="1874.5" x2="1410.5" y2="1874.5" stroke="#000" stroke-width="5"/>
<line x1="1402.8" y1="1289.5" x2="1410.5" y2="1289.5" stroke="#000" stroke-width="5"/>
<line x1="1402.8" y1="1454" x2="1410.5" y2="1454" stroke="#000" stroke-width="5"/>
<line x1="1402.8" y1="1628" x2="1410.5" y2="1628" stroke="#000" stroke-width="5"/>
<line x1="1402.8" y1="1792" x2="1410.5" y2="1792" stroke="#000" stroke-width="5"/>
<text x="1387" y="1221.2" font-size="43" text-anchor="end" >2.0</text>
<text x="1387" y="1385.9" font-size="43" text-anchor="end" >1.8</text>
<text x="1387" y="1725.7" font-size="43" text-anchor="end" >0.2</text>
<text x="1387" y="1888.5" font-size="43" text-anchor="end" >0.0</text>
<polygon points="1397,1538.7 1424,1529.5 1424,1541.9 1397,1551.1" fill="#fff"/>
<line x1="1397" y1="1538.7" x2="1424" y2="1529.5" stroke="#000" stroke-width="5.4"/>
<line x1="1397" y1="1551.1" x2="1424" y2="1541.9" stroke="#000" stroke-width="5.4"/>
<polygon points="2225.5,1538.7 2252.5,1529.5 2252.5,1541.9 2225.5,1551.1" fill="#fff"/>
<line x1="2225.5" y1="1538.7" x2="2252.5" y2="1529.5" stroke="#000" stroke-width="5.4"/>
<line x1="2225.5" y1="1551.1" x2="2252.5" y2="1541.9" stroke="#000" stroke-width="5.4"/>
<text transform="translate(1316,1539.5) rotate(-90)" x="0" y="0" font-size="44" text-anchor="middle">Concentration (mol·L<tspan baseline-shift="16" font-size="29">−1</tspan>)</text>
<text x="1825" y="2001.5" font-size="44" text-anchor="middle" >Temperature (°C)</text>
<g clip-path="url(#cd1)">
<polyline points="1492.6,1380.2 1658.5,1376.9 1824.4,1374.8 1990.3,1373.6 2156.2,1372.4" fill="none" stroke="#505050" stroke-width="5" stroke-linejoin="round"/>
<rect x="1484.1" y="1371.7" width="17" height="17" fill="none" stroke="#505050" stroke-width="3"/>
<rect x="1650" y="1368.4" width="17" height="17" fill="none" stroke="#505050" stroke-width="3"/>
<rect x="1815.9" y="1366.3" width="17" height="17" fill="none" stroke="#505050" stroke-width="3"/>
<rect x="1981.8" y="1365.1" width="17" height="17" fill="none" stroke="#505050" stroke-width="3"/>
<rect x="2147.7" y="1363.9" width="17" height="17" fill="none" stroke="#505050" stroke-width="3"/>
</g>
<g clip-path="url(#cd2)">
<polyline points="1492.6,1868 1658.5,1868 1824.4,1868 1990.3,1868 2156.2,1868" fill="none" stroke="#ef3e40" stroke-width="4.5" stroke-linejoin="round"/>
<circle cx="1492.6" cy="1868" r="10.5" fill="none" stroke="#ef3e40" stroke-width="3"/>
<circle cx="1658.5" cy="1868" r="10.5" fill="none" stroke="#ef3e40" stroke-width="3"/>
<circle cx="1824.4" cy="1868" r="10.5" fill="none" stroke="#ef3e40" stroke-width="3"/>
<circle cx="1990.3" cy="1868" r="10.5" fill="none" stroke="#ef3e40" stroke-width="3"/>
<circle cx="2156.2" cy="1868" r="10.5" fill="none" stroke="#ef3e40" stroke-width="3"/>
</g>
<line x1="1590" y1="2075.2" x2="1686" y2="2075.2" stroke="#505050" stroke-width="6"/>
<rect x="1629" y="2066.2" width="18" height="18" fill="none" stroke="#505050" stroke-width="4"/>
<text x="1695" y="2089.2" font-size="42">HSO<tspan baseline-shift="-8.4" font-size="27.3">4</tspan><tspan dx="-14" baseline-shift="16.8" font-size="27.3">−</tspan></text>
<line x1="1828" y1="2075.2" x2="1924" y2="2075.2" stroke="#ef3e40" stroke-width="6"/>
<circle cx="1876" cy="2075.2" r="9" fill="none" stroke="#ef3e40" stroke-width="4"/>
<text x="1933" y="2089.2" font-size="42">SO<tspan baseline-shift="-8.4" font-size="27.3">4</tspan><tspan dx="-14" baseline-shift="16.8" font-size="27.3">2−</tspan></text>
<text x="38" y="2218" font-size="86" text-anchor="start" >(e)</text>
<rect x="278.4" y="2203.2" width="814.6" height="662.8" fill="none" stroke="#000" stroke-width="5.5" stroke-linejoin="miter"/>
<line x1="277.5" y1="2866" x2="277.5" y2="2878.8" stroke="#000" stroke-width="4.5"/>
<line x1="440.6" y1="2866" x2="440.6" y2="2878.8" stroke="#000" stroke-width="4.5"/>
<line x1="603.7" y1="2866" x2="603.7" y2="2878.8" stroke="#000" stroke-width="4.5"/>
<line x1="766.8" y1="2866" x2="766.8" y2="2878.8" stroke="#000" stroke-width="4.5"/>
<line x1="929.9" y1="2866" x2="929.9" y2="2878.8" stroke="#000" stroke-width="4.5"/>
<line x1="1093" y1="2866" x2="1093" y2="2878.8" stroke="#000" stroke-width="4.5"/>
<line x1="359.1" y1="2866" x2="359.1" y2="2873.8" stroke="#000" stroke-width="4.5"/>
<line x1="522.1" y1="2866" x2="522.1" y2="2873.8" stroke="#000" stroke-width="4.5"/>
<line x1="685.2" y1="2866" x2="685.2" y2="2873.8" stroke="#000" stroke-width="4.5"/>
<line x1="848.3" y1="2866" x2="848.3" y2="2873.8" stroke="#000" stroke-width="4.5"/>
<line x1="1011.4" y1="2866" x2="1011.4" y2="2873.8" stroke="#000" stroke-width="4.5"/>
<text x="277.5" y="2919" font-size="44" text-anchor="middle" >0</text>
<text x="440.6" y="2919" font-size="44" text-anchor="middle" >20</text>
<text x="603.7" y="2919" font-size="44" text-anchor="middle" >40</text>
<text x="766.8" y="2919" font-size="44" text-anchor="middle" >60</text>
<text x="929.9" y="2919" font-size="44" text-anchor="middle" >80</text>
<text x="1093" y="2919" font-size="44" text-anchor="middle" >100</text>
<line x1="266.6" y1="2203.2" x2="278.4" y2="2203.2" stroke="#000" stroke-width="4.5"/>
<line x1="266.6" y1="2323.5" x2="278.4" y2="2323.5" stroke="#000" stroke-width="4.5"/>
<line x1="266.6" y1="2443.8" x2="278.4" y2="2443.8" stroke="#000" stroke-width="4.5"/>
<line x1="266.6" y1="2564.1" x2="278.4" y2="2564.1" stroke="#000" stroke-width="4.5"/>
<line x1="266.6" y1="2684.4" x2="278.4" y2="2684.4" stroke="#000" stroke-width="4.5"/>
<line x1="266.6" y1="2804.7" x2="278.4" y2="2804.7" stroke="#000" stroke-width="4.5"/>
<line x1="271.6" y1="2263.3" x2="278.4" y2="2263.3" stroke="#000" stroke-width="4.5"/>
<line x1="271.6" y1="2383.6" x2="278.4" y2="2383.6" stroke="#000" stroke-width="4.5"/>
<line x1="271.6" y1="2503.9" x2="278.4" y2="2503.9" stroke="#000" stroke-width="4.5"/>
<line x1="271.6" y1="2624.2" x2="278.4" y2="2624.2" stroke="#000" stroke-width="4.5"/>
<line x1="271.6" y1="2744.5" x2="278.4" y2="2744.5" stroke="#000" stroke-width="4.5"/>
<line x1="271.6" y1="2864.8" x2="278.4" y2="2864.8" stroke="#000" stroke-width="4.5"/>
<text x="254.5" y="2217.2" font-size="43" text-anchor="end" >2.8</text>
<text x="254.5" y="2337.5" font-size="43" text-anchor="end" >2.6</text>
<text x="254.5" y="2457.8" font-size="43" text-anchor="end" >2.4</text>
<text x="254.5" y="2578.1" font-size="43" text-anchor="end" >2.2</text>
<text x="254.5" y="2698.4" font-size="43" text-anchor="end" >2.0</text>
<text x="254.5" y="2818.7" font-size="43" text-anchor="end" >1.8</text>
<text transform="translate(177,2532) rotate(-90)" x="0" y="0" font-size="44" text-anchor="middle">[HSO<tspan baseline-shift="-8.8" font-size="28.6">4</tspan><tspan dx="-15" baseline-shift="17.6" font-size="28.6">−</tspan>] (mol·L<tspan baseline-shift="16" font-size="29">−1</tspan>)</text>
<text x="686" y="2991.5" font-size="44" text-anchor="middle" >Hydrolysis ratio (%)</text>
<g clip-path="url(#ce)">
<polyline points="277.5,2690 440.6,2510.6 603.7,2366 766.8,2302.6 929.9,2278.5 1093,2269.5" fill="none" stroke="#ef3e40" stroke-width="4" stroke-linejoin="round"/>
<circle cx="277.5" cy="2690" r="9.5" fill="none" stroke="#ef3e40" stroke-width="3"/>
<circle cx="440.6" cy="2510.6" r="9.5" fill="none" stroke="#ef3e40" stroke-width="3"/>
<circle cx="603.7" cy="2366" r="9.5" fill="none" stroke="#ef3e40" stroke-width="3"/>
<circle cx="766.8" cy="2302.6" r="9.5" fill="none" stroke="#ef3e40" stroke-width="3"/>
<circle cx="929.9" cy="2278.5" r="9.5" fill="none" stroke="#ef3e40" stroke-width="3"/>
<circle cx="1093" cy="2269.5" r="9.5" fill="none" stroke="#ef3e40" stroke-width="3"/>
</g>
<g clip-path="url(#ce)">
<polyline points="277.5,2809 440.6,2807 603.7,2806 766.8,2806 929.9,2805.7 1093,2805.5" fill="none" stroke="#505050" stroke-width="4" stroke-linejoin="round"/>
<rect x="268" y="2799.5" width="19" height="19" fill="none" stroke="#505050" stroke-width="3"/>
<rect x="431.1" y="2797.5" width="19" height="19" fill="none" stroke="#505050" stroke-width="3"/>
<rect x="594.2" y="2796.5" width="19" height="19" fill="none" stroke="#505050" stroke-width="3"/>
<rect x="757.3" y="2796.5" width="19" height="19" fill="none" stroke="#505050" stroke-width="3"/>
<rect x="920.4" y="2796.2" width="19" height="19" fill="none" stroke="#505050" stroke-width="3"/>
<rect x="1083.5" y="2796" width="19" height="19" fill="none" stroke="#505050" stroke-width="3"/>
</g>
<text x="1150" y="2218" font-size="86" text-anchor="start" >(f)</text>
<rect x="1407.5" y="2202.3" width="815.3" height="666" fill="none" stroke="#000" stroke-width="6" stroke-linejoin="miter"/>
<line x1="1406.4" y1="2868.3" x2="1406.4" y2="2881.3" stroke="#000" stroke-width="4.5"/>
<line x1="1569.7" y1="2868.3" x2="1569.7" y2="2881.3" stroke="#000" stroke-width="4.5"/>
<line x1="1733" y1="2868.3" x2="1733" y2="2881.3" stroke="#000" stroke-width="4.5"/>
<line x1="1896.2" y1="2868.3" x2="1896.2" y2="2881.3" stroke="#000" stroke-width="4.5"/>
<line x1="2059.5" y1="2868.3" x2="2059.5" y2="2881.3" stroke="#000" stroke-width="4.5"/>
<line x1="2222.8" y1="2868.3" x2="2222.8" y2="2881.3" stroke="#000" stroke-width="4.5"/>
<line x1="1488" y1="2868.3" x2="1488" y2="2876.3" stroke="#000" stroke-width="4.5"/>
<line x1="1651.3" y1="2868.3" x2="1651.3" y2="2876.3" stroke="#000" stroke-width="4.5"/>
<line x1="1814.6" y1="2868.3" x2="1814.6" y2="2876.3" stroke="#000" stroke-width="4.5"/>
<line x1="1977.9" y1="2868.3" x2="1977.9" y2="2876.3" stroke="#000" stroke-width="4.5"/>
<line x1="2141.2" y1="2868.3" x2="2141.2" y2="2876.3" stroke="#000" stroke-width="4.5"/>
<text x="1406.4" y="2920" font-size="44" text-anchor="middle" >0</text>
<text x="1569.7" y="2920" font-size="44" text-anchor="middle" >20</text>
<text x="1733" y="2920" font-size="44" text-anchor="middle" >40</text>
<text x="1896.2" y="2920" font-size="44" text-anchor="middle" >60</text>
<text x="2059.5" y="2920" font-size="44" text-anchor="middle" >80</text>
<text x="2222.8" y="2920" font-size="44" text-anchor="middle" >100</text>
<line x1="1395.5" y1="2868.3" x2="1407.5" y2="2868.3" stroke="#000" stroke-width="4.5"/>
<line x1="1395.5" y1="2735.1" x2="1407.5" y2="2735.1" stroke="#000" stroke-width="4.5"/>
<line x1="1395.5" y1="2601.9" x2="1407.5" y2="2601.9" stroke="#000" stroke-width="4.5"/>
<line x1="1395.5" y1="2468.7" x2="1407.5" y2="2468.7" stroke="#000" stroke-width="4.5"/>
<line x1="1395.5" y1="2335.5" x2="1407.5" y2="2335.5" stroke="#000" stroke-width="4.5"/>
<line x1="1395.5" y1="2202.3" x2="1407.5" y2="2202.3" stroke="#000" stroke-width="4.5"/>
<line x1="1400.5" y1="2801.7" x2="1407.5" y2="2801.7" stroke="#000" stroke-width="4.5"/>
<line x1="1400.5" y1="2668.5" x2="1407.5" y2="2668.5" stroke="#000" stroke-width="4.5"/>
<line x1="1400.5" y1="2535.3" x2="1407.5" y2="2535.3" stroke="#000" stroke-width="4.5"/>
<line x1="1400.5" y1="2402.1" x2="1407.5" y2="2402.1" stroke="#000" stroke-width="4.5"/>
<line x1="1400.5" y1="2268.9" x2="1407.5" y2="2268.9" stroke="#000" stroke-width="4.5"/>
<text x="1383.5" y="2882.3" font-size="43" text-anchor="end" >0.00</text>
<text x="1383.5" y="2749.1" font-size="43" text-anchor="end" >0.02</text>
<text x="1383.5" y="2615.9" font-size="43" text-anchor="end" >0.04</text>
<text x="1383.5" y="2482.7" font-size="43" text-anchor="end" >0.06</text>
<text x="1383.5" y="2349.5" font-size="43" text-anchor="end" >0.08</text>
<text x="1383.5" y="2216.3" font-size="43" text-anchor="end" >0.10</text>
<text transform="translate(1285,2533) rotate(-90)" x="0" y="0" font-size="44" text-anchor="middle">[SO<tspan baseline-shift="-8.8" font-size="28.6">4</tspan><tspan dx="-15" baseline-shift="17.6" font-size="28.6">2−</tspan>] (mol·L<tspan baseline-shift="16" font-size="29">−1</tspan>)</text>
<text x="1815.5" y="2995" font-size="44" text-anchor="middle" >Hydrolysis ratio (%)</text>
<g clip-path="url(#cf)">
<polyline points="1406.4,2252.6 1569.7,2637.5 1733,2796.3 1896.2,2840.7 2059.5,2851.8 2222.8,2857" fill="none" stroke="#ef3e40" stroke-width="4" stroke-linejoin="round"/>
<circle cx="1406.4" cy="2252.6" r="9.5" fill="none" stroke="#ef3e40" stroke-width="3"/>
<circle cx="1569.7" cy="2637.5" r="9.5" fill="none" stroke="#ef3e40" stroke-width="3"/>
<circle cx="1733" cy="2796.3" r="9.5" fill="none" stroke="#ef3e40" stroke-width="3"/>
<circle cx="1896.2" cy="2840.7" r="9.5" fill="none" stroke="#ef3e40" stroke-width="3"/>
<circle cx="2059.5" cy="2851.8" r="9.5" fill="none" stroke="#ef3e40" stroke-width="3"/>
<circle cx="2222.8" cy="2857" r="9.5" fill="none" stroke="#ef3e40" stroke-width="3"/>
</g>
<g clip-path="url(#cf)">
<polyline points="1406.4,2839.6 1569.7,2856.5 1733,2859 1896.2,2862 2059.5,2863.5 2222.8,2864.5" fill="none" stroke="#505050" stroke-width="4" stroke-linejoin="round"/>
<rect x="1396.9" y="2830.1" width="19" height="19" fill="none" stroke="#505050" stroke-width="3"/>
<rect x="1560.2" y="2847" width="19" height="19" fill="none" stroke="#505050" stroke-width="3"/>
<rect x="1723.5" y="2849.5" width="19" height="19" fill="none" stroke="#505050" stroke-width="3"/>
<rect x="1886.7" y="2852.5" width="19" height="19" fill="none" stroke="#505050" stroke-width="3"/>
<rect x="2050" y="2854" width="19" height="19" fill="none" stroke="#505050" stroke-width="3"/>
<rect x="2213.3" y="2855" width="19" height="19" fill="none" stroke="#505050" stroke-width="3"/>
</g>
<text x="47" y="3080" font-size="86" text-anchor="start" >(g)</text>
<rect x="292.5" y="3055.6" width="812.5" height="662.4" fill="none" stroke="#000" stroke-width="6" stroke-linejoin="miter"/>
<line x1="291.5" y1="3718" x2="291.5" y2="3731" stroke="#000" stroke-width="4.5"/>
<line x1="454.2" y1="3718" x2="454.2" y2="3731" stroke="#000" stroke-width="4.5"/>
<line x1="616.9" y1="3718" x2="616.9" y2="3731" stroke="#000" stroke-width="4.5"/>
<line x1="779.6" y1="3718" x2="779.6" y2="3731" stroke="#000" stroke-width="4.5"/>
<line x1="942.3" y1="3718" x2="942.3" y2="3731" stroke="#000" stroke-width="4.5"/>
<line x1="1105" y1="3718" x2="1105" y2="3731" stroke="#000" stroke-width="4.5"/>
<line x1="372.9" y1="3718" x2="372.9" y2="3726" stroke="#000" stroke-width="4.5"/>
<line x1="535.5" y1="3718" x2="535.5" y2="3726" stroke="#000" stroke-width="4.5"/>
<line x1="698.2" y1="3718" x2="698.2" y2="3726" stroke="#000" stroke-width="4.5"/>
<line x1="860.9" y1="3718" x2="860.9" y2="3726" stroke="#000" stroke-width="4.5"/>
<line x1="1023.6" y1="3718" x2="1023.6" y2="3726" stroke="#000" stroke-width="4.5"/>
<text x="291.5" y="3772" font-size="44" text-anchor="middle" >0</text>
<text x="454.2" y="3772" font-size="44" text-anchor="middle" >20</text>
<text x="616.9" y="3772" font-size="44" text-anchor="middle" >40</text>
<text x="779.6" y="3772" font-size="44" text-anchor="middle" >60</text>
<text x="942.3" y="3772" font-size="44" text-anchor="middle" >80</text>
<text x="1105" y="3772" font-size="44" text-anchor="middle" >100</text>
<line x1="280.5" y1="3718" x2="292.5" y2="3718" stroke="#000" stroke-width="4.5"/>
<line x1="280.5" y1="3585.5" x2="292.5" y2="3585.5" stroke="#000" stroke-width="4.5"/>
<line x1="280.5" y1="3453" x2="292.5" y2="3453" stroke="#000" stroke-width="4.5"/>
<line x1="280.5" y1="3320.6" x2="292.5" y2="3320.6" stroke="#000" stroke-width="4.5"/>
<line x1="280.5" y1="3188.1" x2="292.5" y2="3188.1" stroke="#000" stroke-width="4.5"/>
<line x1="280.5" y1="3055.6" x2="292.5" y2="3055.6" stroke="#000" stroke-width="4.5"/>
<line x1="285.5" y1="3651.8" x2="292.5" y2="3651.8" stroke="#000" stroke-width="4.5"/>
<line x1="285.5" y1="3519.3" x2="292.5" y2="3519.3" stroke="#000" stroke-width="4.5"/>
<line x1="285.5" y1="3386.8" x2="292.5" y2="3386.8" stroke="#000" stroke-width="4.5"/>
<line x1="285.5" y1="3254.3" x2="292.5" y2="3254.3" stroke="#000" stroke-width="4.5"/>
<line x1="285.5" y1="3121.8" x2="292.5" y2="3121.8" stroke="#000" stroke-width="4.5"/>
<text x="269" y="3732" font-size="43" text-anchor="end" >0.0</text>
<text x="269" y="3599.5" font-size="43" text-anchor="end" >0.2</text>
<text x="269" y="3467" font-size="43" text-anchor="end" >0.4</text>
<text x="269" y="3334.6" font-size="43" text-anchor="end" >0.6</text>
<text x="269" y="3202.1" font-size="43" text-anchor="end" >0.8</text>
<text x="269" y="3069.6" font-size="43" text-anchor="end" >1.0</text>
<text transform="translate(200,3384) rotate(-90)" x="0" y="0" font-size="44" text-anchor="middle">[TiO<tspan baseline-shift="17.6" font-size="28.6">2+</tspan>] (mol·L<tspan baseline-shift="16" font-size="29">−1</tspan>)</text>
<text x="698" y="3845" font-size="44" text-anchor="middle" >Hydrolysis ratio (%)</text>
<g clip-path="url(#cg)">
<polyline points="291.5,3188.1 454.2,3294.7 616.9,3400 779.6,3506 942.3,3612 1105,3718" fill="none" stroke="#505050" stroke-width="4" stroke-linejoin="round"/>
<rect x="282" y="3178.6" width="19" height="19" fill="none" stroke="#505050" stroke-width="3"/>
<rect x="444.7" y="3285.2" width="19" height="19" fill="none" stroke="#505050" stroke-width="3"/>
<rect x="607.4" y="3390.5" width="19" height="19" fill="none" stroke="#505050" stroke-width="3"/>
<rect x="770.1" y="3496.5" width="19" height="19" fill="none" stroke="#505050" stroke-width="3"/>
<rect x="932.8" y="3602.5" width="19" height="19" fill="none" stroke="#505050" stroke-width="3"/>
<rect x="1095.5" y="3708.5" width="19" height="19" fill="none" stroke="#505050" stroke-width="3"/>
</g>
<g clip-path="url(#cg)">
<polyline points="291.5,3239.1 454.2,3308.6 616.9,3404 779.6,3506.7 942.3,3614 1105,3718" fill="none" stroke="#ef3e40" stroke-width="4" stroke-linejoin="round"/>
<circle cx="291.5" cy="3239.1" r="9.5" fill="none" stroke="#ef3e40" stroke-width="3"/>
<circle cx="454.2" cy="3308.6" r="9.5" fill="none" stroke="#ef3e40" stroke-width="3"/>
<circle cx="616.9" cy="3404" r="9.5" fill="none" stroke="#ef3e40" stroke-width="3"/>
<circle cx="779.6" cy="3506.7" r="9.5" fill="none" stroke="#ef3e40" stroke-width="3"/>
<circle cx="942.3" cy="3614" r="9.5" fill="none" stroke="#ef3e40" stroke-width="3"/>
<circle cx="1105" cy="3718" r="9.5" fill="none" stroke="#ef3e40" stroke-width="3"/>
</g>
<text x="1150" y="3098" font-size="86" text-anchor="start" >(h)</text>
<rect x="1414.6" y="3054" width="826.4" height="675" fill="none" stroke="#000" stroke-width="6" stroke-linejoin="miter"/>
<line x1="1415" y1="3729" x2="1415" y2="3742" stroke="#000" stroke-width="4.5"/>
<line x1="1580.2" y1="3729" x2="1580.2" y2="3742" stroke="#000" stroke-width="4.5"/>
<line x1="1745.4" y1="3729" x2="1745.4" y2="3742" stroke="#000" stroke-width="4.5"/>
<line x1="1910.6" y1="3729" x2="1910.6" y2="3742" stroke="#000" stroke-width="4.5"/>
<line x1="2075.8" y1="3729" x2="2075.8" y2="3742" stroke="#000" stroke-width="4.5"/>
<line x1="2241" y1="3729" x2="2241" y2="3742" stroke="#000" stroke-width="4.5"/>
<line x1="1497.6" y1="3729" x2="1497.6" y2="3737" stroke="#000" stroke-width="4.5"/>
<line x1="1662.8" y1="3729" x2="1662.8" y2="3737" stroke="#000" stroke-width="4.5"/>
<line x1="1828" y1="3729" x2="1828" y2="3737" stroke="#000" stroke-width="4.5"/>
<line x1="1993.2" y1="3729" x2="1993.2" y2="3737" stroke="#000" stroke-width="4.5"/>
<line x1="2158.4" y1="3729" x2="2158.4" y2="3737" stroke="#000" stroke-width="4.5"/>
<text x="1415" y="3785" font-size="44" text-anchor="middle" >0</text>
<text x="1580.2" y="3785" font-size="44" text-anchor="middle" >20</text>
<text x="1745.4" y="3785" font-size="44" text-anchor="middle" >40</text>
<text x="1910.6" y="3785" font-size="44" text-anchor="middle" >60</text>
<text x="2075.8" y="3785" font-size="44" text-anchor="middle" >80</text>
<text x="2241" y="3785" font-size="44" text-anchor="middle" >100</text>
<line x1="1402.6" y1="3729" x2="1414.6" y2="3729" stroke="#000" stroke-width="4.5"/>
<line x1="1402.6" y1="3594" x2="1414.6" y2="3594" stroke="#000" stroke-width="4.5"/>
<line x1="1402.6" y1="3459" x2="1414.6" y2="3459" stroke="#000" stroke-width="4.5"/>
<line x1="1402.6" y1="3324" x2="1414.6" y2="3324" stroke="#000" stroke-width="4.5"/>
<line x1="1402.6" y1="3189" x2="1414.6" y2="3189" stroke="#000" stroke-width="4.5"/>
<line x1="1402.6" y1="3054" x2="1414.6" y2="3054" stroke="#000" stroke-width="4.5"/>
<line x1="1407.6" y1="3661.5" x2="1414.6" y2="3661.5" stroke="#000" stroke-width="4.5"/>
<line x1="1407.6" y1="3526.5" x2="1414.6" y2="3526.5" stroke="#000" stroke-width="4.5"/>
<line x1="1407.6" y1="3391.5" x2="1414.6" y2="3391.5" stroke="#000" stroke-width="4.5"/>
<line x1="1407.6" y1="3256.5" x2="1414.6" y2="3256.5" stroke="#000" stroke-width="4.5"/>
<line x1="1407.6" y1="3121.5" x2="1414.6" y2="3121.5" stroke="#000" stroke-width="4.5"/>
<text x="1391" y="3743" font-size="43" text-anchor="end" >0.0</text>
<text x="1391" y="3608" font-size="43" text-anchor="end" >0.4</text>
<text x="1391" y="3473" font-size="43" text-anchor="end" >0.8</text>
<text x="1391" y="3338" font-size="43" text-anchor="end" >1.2</text>
<text x="1391" y="3203" font-size="43" text-anchor="end" >1.6</text>
<text x="1391" y="3068" font-size="43" text-anchor="end" >2.0</text>
<text transform="translate(1321,3389) rotate(-90)" x="0" y="0" font-size="44" text-anchor="middle">[H<tspan baseline-shift="17.6" font-size="28.6">+</tspan>] (mol·L<tspan baseline-shift="16" font-size="29">−1</tspan>)</text>
<text x="1828" y="3859" font-size="44" text-anchor="middle" >Hydrolysis ratio (%)</text>
<g clip-path="url(#ch)">
<polyline points="1415,3659.8 1580.2,3554.5 1745.4,3445.5 1910.6,3337.5 2075.8,3228.8 2241,3119.8" fill="none" stroke="#505050" stroke-width="4" stroke-linejoin="round"/>
<rect x="1405.5" y="3650.3" width="19" height="19" fill="none" stroke="#505050" stroke-width="3"/>
<rect x="1570.7" y="3545" width="19" height="19" fill="none" stroke="#505050" stroke-width="3"/>
<rect x="1735.9" y="3436" width="19" height="19" fill="none" stroke="#505050" stroke-width="3"/>
<rect x="1901.1" y="3328" width="19" height="19" fill="none" stroke="#505050" stroke-width="3"/>
<rect x="2066.3" y="3219.3" width="19" height="19" fill="none" stroke="#505050" stroke-width="3"/>
<rect x="2231.5" y="3110.3" width="19" height="19" fill="none" stroke="#505050" stroke-width="3"/>
</g>
<g clip-path="url(#ch)">
<polyline points="1415,3721.6 1580.2,3718.5 1745.4,3692.2 1910.6,3619 2075.8,3522.1 2241,3419.8" fill="none" stroke="#ef3e40" stroke-width="4" stroke-linejoin="round"/>
<circle cx="1415" cy="3721.6" r="9.5" fill="none" stroke="#ef3e40" stroke-width="3"/>
<circle cx="1580.2" cy="3718.5" r="9.5" fill="none" stroke="#ef3e40" stroke-width="3"/>
<circle cx="1745.4" cy="3692.2" r="9.5" fill="none" stroke="#ef3e40" stroke-width="3"/>
<circle cx="1910.6" cy="3619" r="9.5" fill="none" stroke="#ef3e40" stroke-width="3"/>
<circle cx="2075.8" cy="3522.1" r="9.5" fill="none" stroke="#ef3e40" stroke-width="3"/>
<circle cx="2241" cy="3419.8" r="9.5" fill="none" stroke="#ef3e40" stroke-width="3"/>
</g>
<line x1="693" y1="3937.7" x2="790" y2="3937.7" stroke="#505050" stroke-width="4"/>
<rect x="732" y="3928.2" width="19" height="19" fill="none" stroke="#505050" stroke-width="3"/>
<text x="799" y="3952" font-size="41">TiOSO<tspan baseline-shift="-8.2" font-size="26.7">4</tspan> solution</text>
<line x1="1165" y1="3937.7" x2="1261" y2="3937.7" stroke="#ef3e40" stroke-width="4"/>
<circle cx="1213" cy="3937.7" r="9.5" fill="none" stroke="#ef3e40" stroke-width="3"/>
<text x="1270" y="3952" font-size="41">Mg/Al bearing TiOSO<tspan baseline-shift="-8.2" font-size="26.7">4</tspan> solution</text>
</svg>
</body></html>
